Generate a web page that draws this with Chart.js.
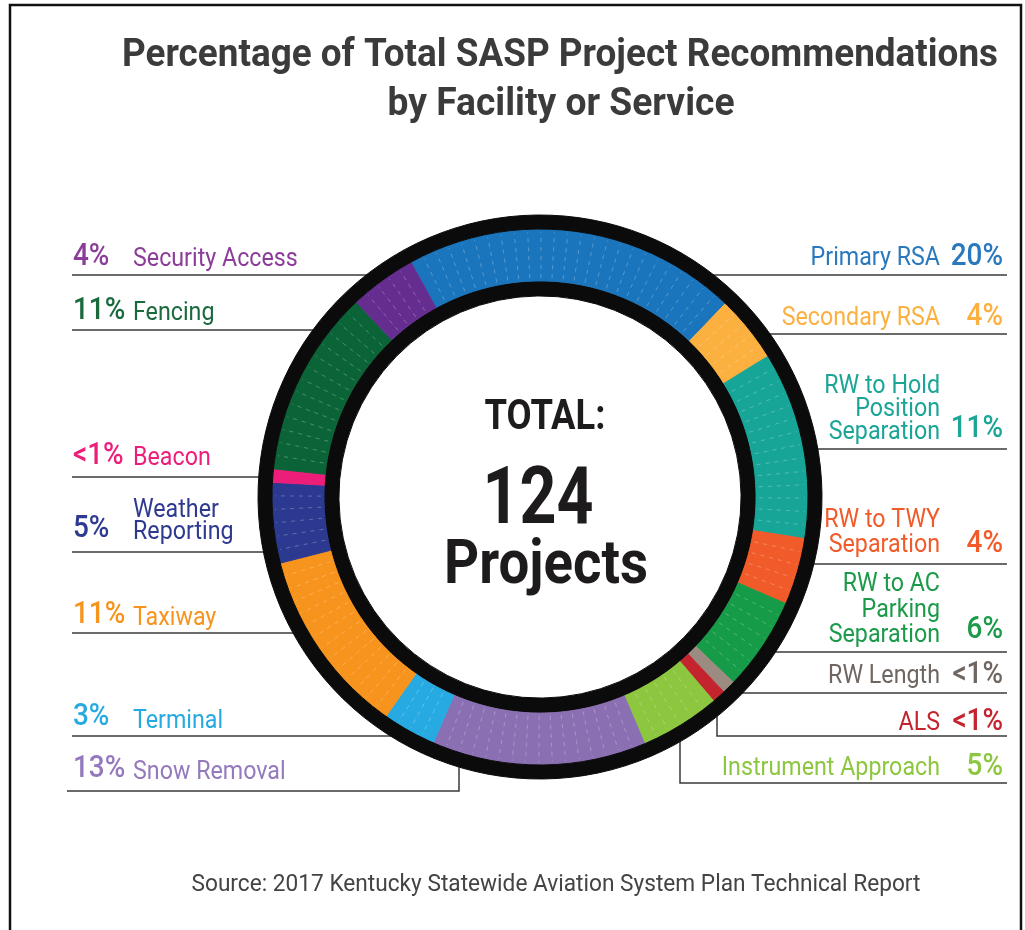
<!DOCTYPE html>
<html>
<head>
<meta charset="utf-8">
<title>SASP Project Recommendations</title>
<script src="https://cdn.jsdelivr.net/npm/chart.js@4.4.1/dist/chart.umd.min.js"></script>
<style>
  html, body { margin: 0; padding: 0; background: #fff; }
  #wrap { width: 1025px; height: 930px; }
</style>
</head>
<body>
<div id="wrap"><canvas id="sasp_chart" width="1025" height="930"></canvas></div>
<script>
// categories, clockwise from the top of the ring
var categories = ["Primary RSA", "Secondary RSA", "RW to Hold Position Separation", "RW to TWY Separation",
    "RW to AC Parking Separation", "RW Length", "ALS", "Instrument Approach", "Snow Removal",
    "Terminal", "Taxiway", "Weather Reporting", "Beacon", "Fencing", "Security Access"];
var projectCounts = [25, 5, 14, 5, 7, 1, 1, 6, 16, 4, 14, 6, 1, 14, 5];
var pctLabels = ["20%", "4%", "11%", "4%", "6%", "<1%", "<1%", "5%", "13%", "3%", "11%", "5%", "<1%", "11%", "4%"];
var totalProjects = 124;

var sliceColors = ['#1a75bc', '#fbb040', '#16a597', '#f15a29', '#169b48', '#9c8b80', '#c4242e', '#8dc63f',
    '#8b6fb3', '#27aae1', '#f7941d', '#2b3990', '#ec1e79', '#0b6437', '#662d91'];
var textColors = ['#2a78bd', '#fbb040', '#1aa596', '#f15a29', '#1c9a4a', '#6f6661', '#c4242e', '#8dc63f',
    '#9479bd', '#27aae1', '#f7941d', '#2e3a90', '#ec1e79', '#1b6a3e', '#8c3d99'];

// label placement (side, text lines, baselines, underline y, optional elbow)
var labelLayout = [
    {side: 'R', lines: ['Primary RSA'], ys: [265], pctY: 265, lineY: 275},
    {side: 'R', lines: ['Secondary RSA'], ys: [325], pctY: 325, lineY: 334},
    {side: 'R', lines: ['RW to Hold', 'Position', 'Separation'], ys: [393, 416, 439], pctY: 437, lineY: 449},
    {side: 'R', lines: ['RW to TWY', 'Separation'], ys: [527, 552], pctY: 552, lineY: 564},
    {side: 'R', lines: ['RW to AC', 'Parking', 'Separation'], ys: [591, 617, 642], pctY: 638, lineY: 652},
    {side: 'R', lines: ['RW Length'], ys: [683], pctY: 683, lineY: 693},
    {side: 'R', lines: ['ALS'], ys: [730], pctY: 730, lineY: 736, elbowX: 717},
    {side: 'R', lines: ['Instrument Approach'], ys: [775], pctY: 775, lineY: 783, elbowX: 680},
    {side: 'L', lines: ['Snow Removal'], ys: [779], pctY: 777, lineY: 791, elbowX: 459, startX: 67},
    {side: 'L', lines: ['Terminal'], ys: [728], pctY: 725, lineY: 736},
    {side: 'L', lines: ['Taxiway'], ys: [625], pctY: 623, lineY: 633},
    {side: 'L', lines: ['Weather', 'Reporting'], ys: [517, 539], pctY: 537, lineY: 552},
    {side: 'L', lines: ['Beacon'], ys: [465], pctY: 464, lineY: 477},
    {side: 'L', lines: ['Fencing'], ys: [320], pctY: 319, lineY: 330},
    {side: 'L', lines: ['Security Access'], ys: [266], pctY: 265, lineY: 275}
];

// one slice per project
var sliceLabels = [], sliceData = [], sliceFill = [], sliceCat = [];
categories.forEach(function(cat, i) {
    for (var k = 0; k < projectCounts[i]; k++) {
        sliceLabels.push(cat);
        sliceData.push(1);
        sliceFill.push(sliceColors[i]);
        sliceCat.push(i);
    }
});

var NAME_SQUEEZE = 0.93;
var PCT_SQUEEZE = 0.9;

function drawText(ctx, text, x, y, font, color, align, squeeze) {
    ctx.save();
    ctx.font = font;
    ctx.fillStyle = color;
    ctx.textAlign = align;
    ctx.textBaseline = 'alphabetic';
    ctx.translate(x, y);
    ctx.scale(squeeze, 1);
    ctx.fillText(text, 0, 0);
    ctx.restore();
}

function fitText(ctx, text, cx, y, font, color, width) {
    ctx.save();
    ctx.font = font;
    var w = ctx.measureText(text).width;
    ctx.restore();
    drawText(ctx, text, cx, y, font, color, 'center', width / w);
}

var ringDecor = {
    id: 'ringDecor',
    beforeDatasetsDraw: function(chart) {
        var ctx = chart.ctx;
        var arc = chart.getDatasetMeta(1).data[0];
        var cx = arc.x, cy = arc.y;
        var rMid = (arc.innerRadius + arc.outerRadius) / 2;
        ctx.save();
        ctx.strokeStyle = '#3a3a3a';
        ctx.lineWidth = 1.5;
        labelLayout.forEach(function(l) {
            var dy = l.lineY - cy;
            ctx.beginPath();
            if (l.side === 'R') {
                ctx.moveTo(1007, l.lineY);
                if (l.elbowX) {
                    var dx = l.elbowX - cx;
                    ctx.lineTo(l.elbowX, l.lineY);
                    ctx.lineTo(l.elbowX, cy + Math.sqrt(rMid * rMid - dx * dx));
                } else {
                    ctx.lineTo(cx + Math.sqrt(rMid * rMid - dy * dy), l.lineY);
                }
            } else {
                ctx.moveTo(l.startX || 72, l.lineY);
                if (l.elbowX) {
                    var dx2 = l.elbowX - cx;
                    ctx.lineTo(l.elbowX, l.lineY);
                    ctx.lineTo(l.elbowX, cy + Math.sqrt(rMid * rMid - dx2 * dx2));
                } else {
                    ctx.lineTo(cx - Math.sqrt(rMid * rMid - dy * dy), l.lineY);
                }
            }
            ctx.stroke();
        });
        ctx.restore();
    },
    afterDatasetsDraw: function(chart) {
        // faint dashed dividers between single projects
        var ctx = chart.ctx;
        var arcs = chart.getDatasetMeta(1).data;
        ctx.save();
        ctx.strokeStyle = 'rgba(255,255,255,0.26)';
        ctx.lineWidth = 1;
        ctx.setLineDash([4, 5]);
        for (var i = 1; i < arcs.length; i++) {
            if (sliceCat[i] !== sliceCat[i - 1]) continue;
            var a = arcs[i];
            var c = Math.cos(a.startAngle), s = Math.sin(a.startAngle);
            ctx.beginPath();
            ctx.moveTo(a.x + c * (a.innerRadius + 3), a.y + s * (a.innerRadius + 3));
            ctx.lineTo(a.x + c * (a.outerRadius - 3), a.y + s * (a.outerRadius - 3));
            ctx.stroke();
        }
        ctx.restore();
    },
    afterDraw: function(chart) {
        var ctx = chart.ctx;

        // frame
        ctx.save();
        ctx.strokeStyle = '#111';
        ctx.lineWidth = 2.5;
        ctx.beginPath();
        ctx.moveTo(10, 930);
        ctx.lineTo(10, 5);
        ctx.lineTo(1021, 5);
        ctx.lineTo(1021, 930);
        ctx.stroke();
        ctx.restore();

        // title
        fitText(ctx, 'Percentage of Total SASP Project Recommendations', 560, 66, 'bold 39px Roboto', '#3b3b3b', 876);
        fitText(ctx, 'by Facility or Service', 561, 115, 'bold 39px Roboto', '#3b3b3b', 347);

        // centre total
        fitText(ctx, 'TOTAL:', 545, 429, 'bold 42px Roboto', '#1e1b1c', 121);
        fitText(ctx, String(totalProjects), 538, 523, 'bold 79px Roboto', '#1e1b1c', 111);
        fitText(ctx, 'Projects', 546, 583, 'bold 61px Roboto', '#1e1b1c', 204);

        // category labels
        labelLayout.forEach(function(l, i) {
            var col = textColors[i];
            if (l.side === 'R') {
                l.lines.forEach(function(t, k) {
                    drawText(ctx, t, 940, l.ys[k], '25px Roboto', col, 'right', NAME_SQUEEZE);
                });
                drawText(ctx, pctLabels[i], 1003, l.pctY, '500 31px Roboto', col, 'right', PCT_SQUEEZE);
            } else {
                l.lines.forEach(function(t, k) {
                    drawText(ctx, t, 133, l.ys[k], '25px Roboto', col, 'left', NAME_SQUEEZE);
                });
                drawText(ctx, pctLabels[i], 73, l.pctY, '500 31px Roboto', col, 'left', PCT_SQUEEZE);
            }
        });

        // source
        fitText(ctx, 'Source: 2017 Kentucky Statewide Aviation System Plan Technical Report', 556, 891, '24px Roboto', '#444', 729);
    }
};

var ctx1 = document.getElementById('sasp_chart');
new Chart(ctx1, {
    type: 'doughnut',
    data: {
        labels: sliceLabels,
        datasets: [
            {data: [totalProjects], backgroundColor: '#0b0b0b', borderColor: '#0b0b0b', borderWidth: 1, weight: 14},
            {data: sliceData, backgroundColor: sliceFill, borderColor: sliceFill, borderWidth: 1, weight: 52},
            {data: [totalProjects], backgroundColor: '#0b0b0b', borderColor: '#0b0b0b', borderWidth: 1, weight: 15}
        ]
    },
    options: {
        responsive: false,
        animation: false,
        events: [],
        rotation: -28.8,
        radius: 282,
        cutout: '71.3%',
        layout: {padding: {left: 258, right: 203, top: 215, bottom: 151}},
        plugins: {legend: {display: false}, tooltip: {enabled: false}}
    },
    plugins: [ringDecor]
});
</script>
</body>
</html>
